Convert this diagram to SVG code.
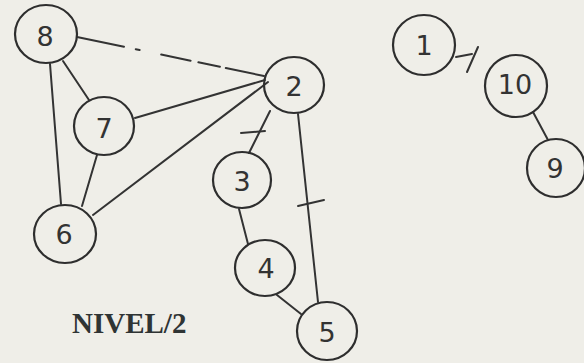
<svg xmlns="http://www.w3.org/2000/svg" width="584" height="363" viewBox="0 0 584 363">
  <style>
    .node ellipse { fill: none; stroke: #2e2e2e; stroke-width: 2.2; }
    .node text { font-family: "DejaVu Sans", sans-serif; font-size: 27px; fill: #333; text-anchor: middle; dominant-baseline: central; }
    .edges line { stroke: #333; stroke-width: 2; stroke-linecap: round; }
    .edges .dashed { stroke-dasharray: 48 12 4 22 30 8 22 6; }
    .caption { font-family: "Liberation Serif", serif; font-weight: bold; font-size: 29px; fill: #2f3434; }
  </style>
  <rect width="584" height="363" fill="#efeee8"/>

  <g class="edges" id="edges">
    <line class="dashed" x1="77" y1="37" x2="264" y2="76"/>
    <line x1="63" y1="61" x2="89" y2="100"/>
    <line x1="50" y1="64" x2="61" y2="204"/>
    <line x1="97" y1="155" x2="82" y2="206"/>
    <line x1="135" y1="118" x2="265" y2="80"/>
    <line x1="93" y1="215" x2="268" y2="82"/>
    <line x1="270" y1="111" x2="249" y2="153"/>
    <line x1="241" y1="133" x2="265" y2="131"/>
    <line x1="298" y1="114" x2="318" y2="302"/>
    <line x1="298" y1="206" x2="324" y2="200"/>
    <line x1="239" y1="209" x2="248" y2="244"/>
    <line x1="277" y1="295" x2="301" y2="314"/>
    <line x1="456" y1="57" x2="472" y2="54"/>
    <line x1="478" y1="47" x2="467" y2="72"/>
    <line x1="533" y1="112" x2="548" y2="140"/>
  </g>

  <g class="node" id="n8"><ellipse cx="46" cy="34" rx="31" ry="29"/><text x="45" y="36">8</text></g>
  <g class="node" id="n7"><ellipse cx="104" cy="126" rx="30" ry="29"/><text x="104" y="128">7</text></g>
  <g class="node" id="n2"><ellipse cx="294" cy="85" rx="30" ry="28"/><text x="294" y="86">2</text></g>
  <g class="node" id="n3"><ellipse cx="242" cy="180" rx="29" ry="28"/><text x="242" y="181">3</text></g>
  <g class="node" id="n6"><ellipse cx="65" cy="234" rx="31" ry="29"/><text x="64" y="234">6</text></g>
  <g class="node" id="n4"><ellipse cx="265" cy="268" rx="30" ry="28"/><text x="266" y="268">4</text></g>
  <g class="node" id="n5"><ellipse cx="327" cy="331" rx="30" ry="29"/><text x="327" y="332">5</text></g>
  <g class="node" id="n1"><ellipse cx="424" cy="45" rx="31" ry="30"/><text x="424" y="45">1</text></g>
  <g class="node" id="n10"><ellipse cx="516" cy="86" rx="31" ry="31"/><text x="515" y="84">10</text></g>
  <g class="node" id="n9"><ellipse cx="556" cy="168" rx="29" ry="29"/><text x="555" y="168">9</text></g>

  <text class="caption" x="72" y="333">NIVEL/2</text>
</svg>
